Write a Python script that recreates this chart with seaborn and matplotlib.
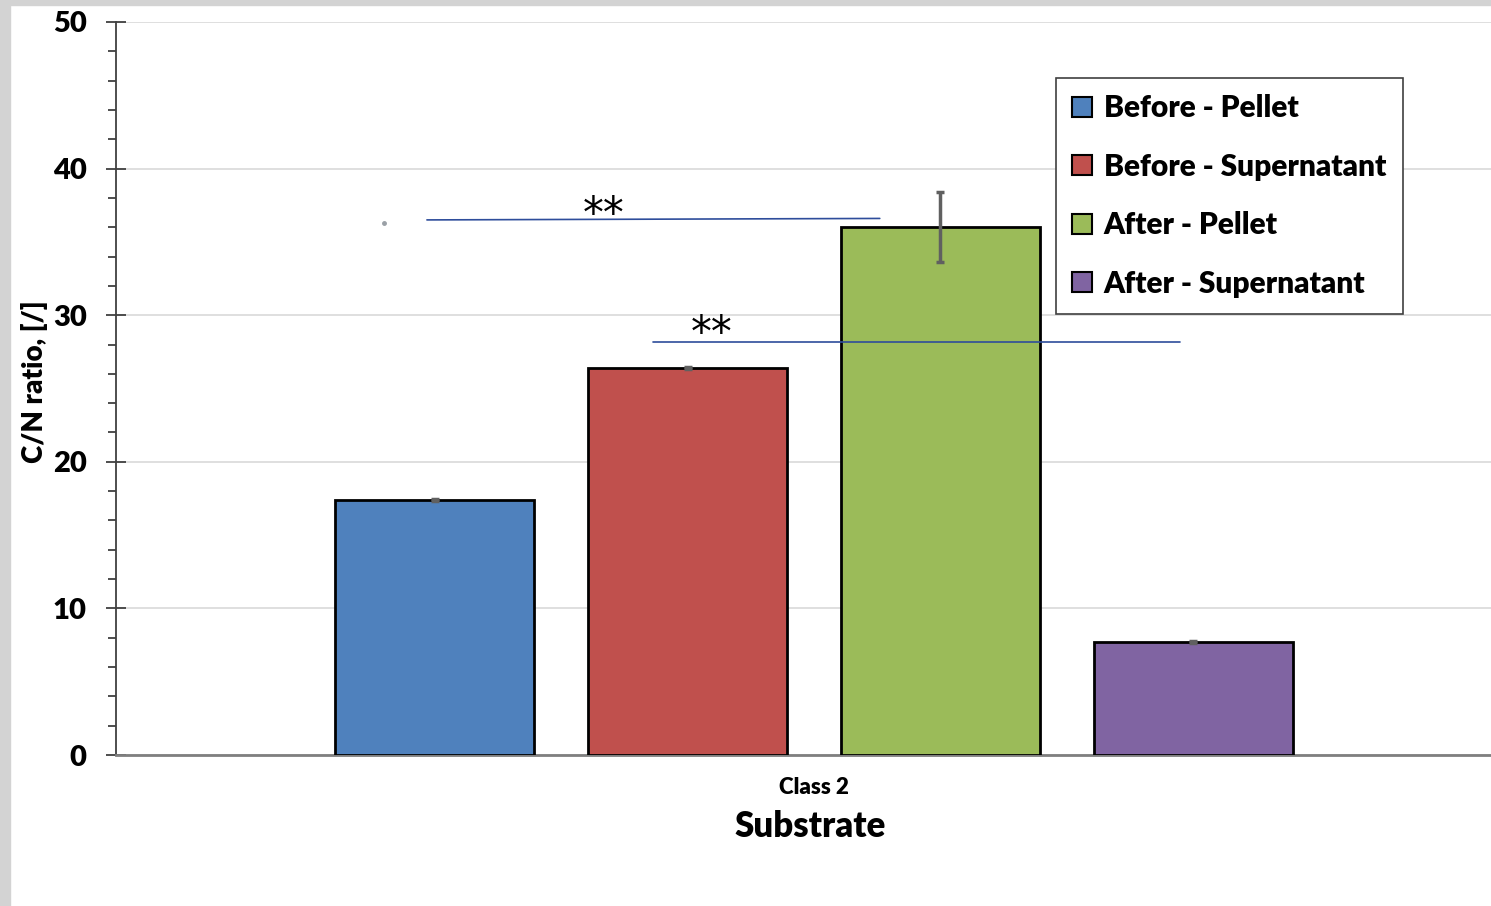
import matplotlib
matplotlib.use("Agg")
import matplotlib.pyplot as plt
from matplotlib.patches import Rectangle
from matplotlib.ticker import MultipleLocator
import seaborn as sns
import pandas as pd

# ---- data ----
categories = ["Class 2"]
groups = ["Before - Pellet", "Before - Supernatant", "After - Pellet", "After - Supernatant"]
cn_ratio = [17.4, 26.4, 36.0, 7.7]
cn_err = [0.08, 0.08, 2.4, 0.08]
colors = ["#4F81BD", "#C0504D", "#9BBB59", "#8064A2"]

# significance brackets: (x_start, x_end, y_start, y_end, label_x, label_y)
sig_lines = [
    (-0.306, 0.052, 36.5, 36.6, -0.166, 37.15),
    (-0.127, 0.289, 28.2, 28.2, -0.081, 29.05),
]
sig_label = "**"

df = pd.DataFrame({
    "Substrate": categories * len(groups),
    "Group": groups,
    "CN": cn_ratio,
})

sns.set_theme(style="white")
plt.rcParams["font.family"] = ["Lato", "DejaVu Sans"]
plt.rcParams["font.weight"] = "heavy"

fig = plt.figure(figsize=(14.91, 9.06), dpi=100)
ax = fig.add_axes([116 / 1491, 1 - 755 / 906, 1 - 116 / 1491, (755 - 22) / 906])

# frame strips along the top and left edges
fig.patches.append(Rectangle((0, 0), 10 / 1491, 1, transform=fig.transFigure,
                             color="#d3d3d3", zorder=0))
fig.patches.append(Rectangle((0, 1 - 5 / 906), 1, 5 / 906, transform=fig.transFigure,
                             color="#d3d3d3", zorder=0))

sns.barplot(data=df, x="Substrate", y="CN", hue="Group", hue_order=groups,
            palette=colors, saturation=1, errorbar=None, width=0.8, gap=0.21,
            edgecolor="black", linewidth=2.0, legend=True, ax=ax, zorder=3)

# error bars at the bar centres
bars = [p for p in ax.patches if p.get_height() > 0][:len(groups)]
xs = [b.get_x() + b.get_width() / 2 for b in bars]
ax.errorbar(xs, cn_ratio, yerr=cn_err, fmt="none", ecolor="#606060",
            elinewidth=2.5, capsize=3, capthick=2.5, zorder=4)

# significance lines with centred star labels
for x0, x1, y0, y1, tx, ty in sig_lines:
    ax.plot([x0, x1], [y0, y1], color="#2E4D9B", lw=1.2, zorder=5)
    ax.text(tx, ty, sig_label, ha="center", va="center_baseline", fontsize=30,
            family="DejaVu Sans", fontweight="normal", color="black", zorder=5)
ax.plot([-0.340], [36.3], marker="o", ms=2.5, color="#9aa0a6", zorder=5)

ax.set_ylim(0, 50)
ax.set_xlim(-0.5518, 0.5352)
ax.yaxis.set_major_locator(MultipleLocator(10))
ax.yaxis.set_minor_locator(MultipleLocator(2))
ax.grid(axis="y", which="major", color="#d9d9d9", lw=1.2, zorder=0)
ax.set_axisbelow(True)

for s in ["top", "right"]:
    ax.spines[s].set_visible(False)
ax.spines["left"].set_color("#404040")
ax.spines["left"].set_linewidth(1.3)
ax.spines["bottom"].set_color("#7f7f7f")
ax.spines["bottom"].set_linewidth(2)

ax.tick_params(axis="y", which="major", direction="inout", length=14, width=1.3,
               color="#404040", left=True, pad=14, labelsize=21)
ax.tick_params(axis="y", which="minor", direction="out", length=6, width=1.3,
               color="#404040", left=True)
ax.tick_params(axis="x", length=0, pad=16, labelsize=16)
for lab in ax.get_yticklabels() + ax.get_xticklabels():
    lab.set_fontweight("heavy")
    lab.set_color("black")

ax.set_xlabel("Substrate", fontsize=25, fontweight="heavy", color="black")
ax.xaxis.set_label_coords(0.5047, -0.075)
ax.set_ylabel("C/N ratio, [/]", fontsize=20, fontweight="heavy", color="black",
              ha="center", va="center")
ax.yaxis.set_label_coords((35 - 116) / 1375, (755 - 382) / 733)

leg = ax.legend(loc="upper left", bbox_to_anchor=((1056 - 116) / 1375, 1 - (78 - 22) / 733),
                frameon=True, fancybox=False, edgecolor="#404040", framealpha=1,
                prop={"size": 21.5, "weight": "heavy"}, handlelength=0.65, handleheight=0.65,
                handletextpad=0.4, labelspacing=1.02, borderpad=0.55, borderaxespad=0)
leg.get_frame().set_linewidth(1.2)
for h in leg.legend_handles:
    h.set_edgecolor("black")
    h.set_linewidth(1.5)
for t in leg.get_texts():
    t.set_color("black")

fig.savefig("out.png", dpi=100, facecolor="white")
